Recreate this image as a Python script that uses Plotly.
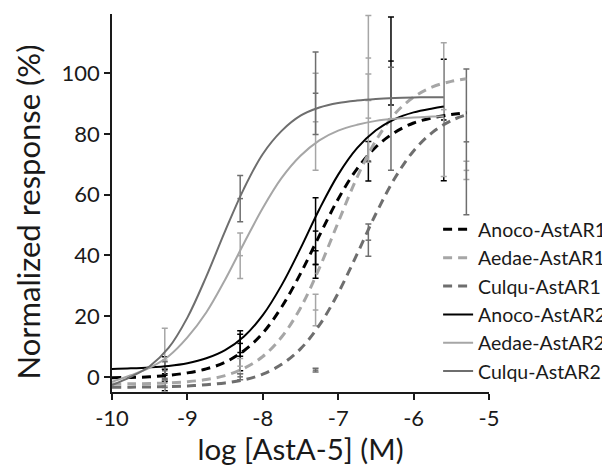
import plotly.graph_objects as go

# ---- data ----
names = ["Anoco-AstAR1", "Aedae-AstAR1", "Culqu-AstAR1",
         "Anoco-AstAR2", "Aedae-AstAR2", "Culqu-AstAR2"]
colors = ["#000000", "#a6a6a6", "#6e6e6e", "#000000", "#a6a6a6", "#6e6e6e"]
dashed = [True, True, True, False, False, False]

# fitted curves
curve_x_ar1 = [-10, -9.75, -9.5, -9.25, -9, -8.75, -8.5, -8.25, -8, -7.75,
               -7.5, -7.25, -7, -6.75, -6.5, -6.25, -6, -5.75, -5.5, -5.3]
curve_x_ar2 = [-10, -9.75, -9.5, -9.25, -9, -8.75, -8.5, -8.25, -8, -7.75,
               -7.5, -7.25, -7, -6.75, -6.5, -6.25, -6, -5.75, -5.6]

anoco_ar1_curve = [-0.3, -0.2, 0.0, 0.5, 1.3, 2.6, 4.8, 8.6, 14.4, 23, 34, 46.5,
                   58.6, 68.5, 75.7, 80.5, 83.6, 85.3, 86.4, 87]
aedae_ar1_curve = [-2.4, -2.3, -2.2, -2.0, -1.6, -0.9, 0.4, 2.8, 6.7, 13.1, 22.7,
                   35.8, 50.9, 65.7, 77.8, 86.6, 92.1, 95.5, 97.3, 98.2]
culqu_ar1_curve = [-3.4, -3.4, -3.35, -3.2, -3.0, -2.6, -2.0, -1.0, 0.9, 4.1, 9.2,
                   17, 27.6, 40.4, 53.7, 65.4, 74.4, 80.5, 84.4, 86.3]
anoco_ar2_curve = [2.6, 2.8, 3.1, 3.6, 4.5, 6.1, 8.8, 13.3, 20.3, 30.2, 42.3, 55.2,
                   66.6, 75.3, 81.2, 84.9, 87.1, 88.4, 89]
aedae_ar2_curve = [-1.6, 0.5, 3.0, 6.8, 13, 21.2, 32, 44, 55.6, 65.5, 72.8, 77.9,
                   81.1, 83, 84.3, 85, 85.4, 85.7, 85.8]
culqu_ar2_curve = [-2.7, 0.0, 3.5, 9.5, 19.5, 33, 48, 62, 73.4, 81, 86, 88.7,
                   90.2, 91, 91.5, 91.8, 92, 92.1, 92.1]

# measured points (mean +/- error)
anoco_ar1_x = [-9.3, -8.3, -7.3, -6.6]
anoco_ar1_y = [0.5, 8, 37, 71]
anoco_ar1_e = [2, 6, 4.5, 6.5]

aedae_ar1_x = [-9.3, -8.3, -7.3, -6.6, -5.3]
aedae_ar1_y = [-1, 3.5, 22, 105, 68]
aedae_ar1_e = [2, 2.5, 5.2, 14, 3]

culqu_ar1_x = [-9.3, -8.3, -7.3, -6.6, -5.3]
culqu_ar1_y = [-2, 0, 2.2, 45, 77.4]
culqu_ar1_e = [1.5, 1, 0.6, 5.3, 24]

anoco_ar2_x = [-9.3, -8.3, -7.3, -6.3, -5.6]
anoco_ar2_y = [1, 11, 48, 104, 84.6]
anoco_ar2_e = [5.6, 4.2, 11, 14.5, 20]

aedae_ar2_x = [-9.3, -8.3, -7.3, -6.6, -5.6]
aedae_ar2_y = [5.5, 39.9, 84, 85.2, 88]
aedae_ar2_e = [10.5, 7.5, 16, 14.5, 22]

culqu_ar2_x = [-9.3, -8.3, -7.3, -6.3]
culqu_ar2_y = [2, 58.7, 93.4, 85]
culqu_ar2_e = [3, 7.6, 13.6, 17]

x_ticks = [-10, -9, -8, -7, -6, -5]
y_ticks = [0, 20, 40, 60, 80, 100]

curves = [(curve_x_ar1, anoco_ar1_curve), (curve_x_ar1, aedae_ar1_curve),
          (curve_x_ar1, culqu_ar1_curve), (curve_x_ar2, anoco_ar2_curve),
          (curve_x_ar2, aedae_ar2_curve), (curve_x_ar2, culqu_ar2_curve)]
points = [(anoco_ar1_x, anoco_ar1_y, anoco_ar1_e), (aedae_ar1_x, aedae_ar1_y, aedae_ar1_e),
          (culqu_ar1_x, culqu_ar1_y, culqu_ar1_e), (anoco_ar2_x, anoco_ar2_y, anoco_ar2_e),
          (aedae_ar2_x, aedae_ar2_y, aedae_ar2_e), (culqu_ar2_x, culqu_ar2_y, culqu_ar2_e)]

FONT = "Lato, 'Open Sans', sans-serif"
TXT = "#1a1a1a"

fig = go.Figure()

# error bars / points first
for name, col, (px, py, pe) in zip(names, colors, points):
    fig.add_trace(go.Scatter(
        x=px, y=py, mode="markers", legendgroup=name, showlegend=False,
        marker=dict(symbol="line-ew", size=4, color=col, line=dict(color=col, width=1.5)),
        error_y=dict(type="data", array=pe, visible=True, color=col, thickness=1.5, width=3),
        hoverinfo="skip"))

# curves
for name, col, d, (cx, cy) in zip(names, colors, dashed, curves):
    fig.add_trace(go.Scatter(
        x=cx, y=cy, mode="lines", name=name, legendgroup=name,
        line=dict(color=col, width=3 if d else 2, dash="9px,6px" if d else "solid",
                  shape="spline", smoothing=1.0)))

# the page body has an 8px margin, so the figure is sized to fit inside it
fig.update_layout(
    width=602, height=458,
    margin=dict(l=104, r=121, t=6, b=74, autoexpand=False),
    paper_bgcolor="white", plot_bgcolor="white",
    font=dict(family=FONT, color=TXT),
    showlegend=True,
    legend=dict(x=0.865, y=0.481, xanchor="left", yanchor="top",
                font=dict(size=19.5, family=FONT, color=TXT),
                bgcolor="rgba(0,0,0,0)", itemwidth=30, tracegroupgap=0),
    xaxis=dict(range=[-10, -5], tickvals=x_ticks, ticktext=[str(v) for v in x_ticks],
               showline=True, linecolor=TXT, linewidth=1.5,
               ticks="outside", ticklen=6, tickwidth=1.5, tickcolor=TXT,
               showgrid=False, zeroline=False,
               tickfont=dict(size=22, family=FONT, color=TXT),
               title=dict(text="log [AstA-5] (M)", font=dict(size=29.5, family=FONT, color=TXT),
                          standoff=6)),
    yaxis=dict(range=[-5, 119.5], tickvals=y_ticks, ticktext=[str(v) for v in y_ticks],
               showline=True, linecolor=TXT, linewidth=1.5,
               ticks="outside", ticklen=6, tickwidth=1.5, tickcolor=TXT,
               showgrid=False, zeroline=False,
               tickfont=dict(size=22, family=FONT, color=TXT)),
    annotations=[dict(text="Normalized response (%)", textangle=-90,
                      xref="paper", yref="paper", x=-0.2228, y=0.475,
                      xanchor="center", yanchor="middle", showarrow=False,
                      font=dict(size=31, family=FONT, color=TXT))],
)

fig.write_html("out.html")
